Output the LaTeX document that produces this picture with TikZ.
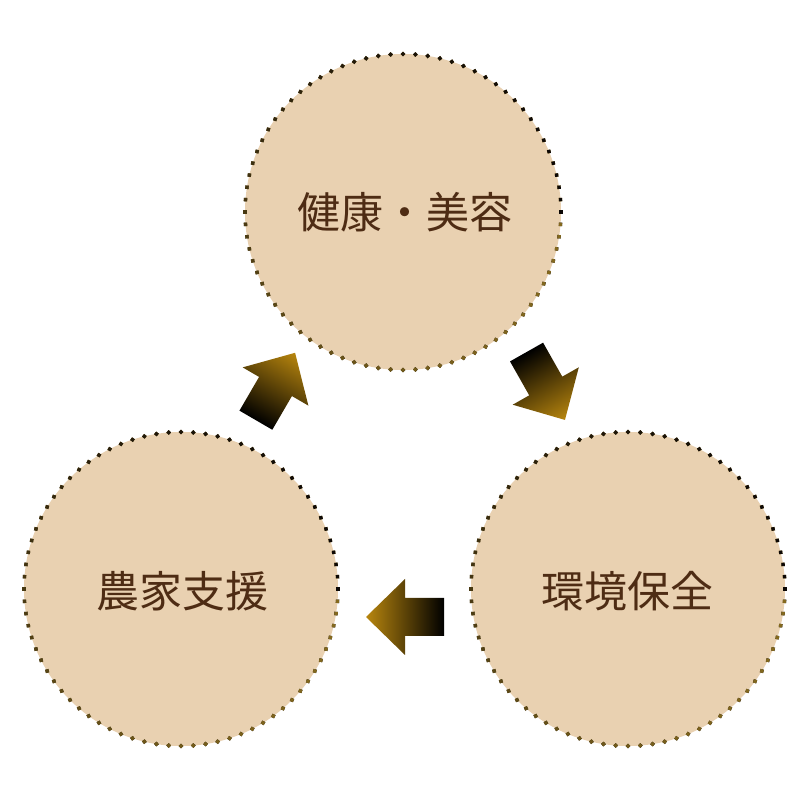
\documentclass[tikz,border=0pt]{standalone}
\usepackage{fontspec}
\newfontfamily\cjk{Noto Sans CJK JP}
\usetikzlibrary{calc}
\definecolor{circfill}{RGB}{233,209,177}
\definecolor{dotdark}{RGB}{25,18,8}
\definecolor{dotgold}{RGB}{160,128,36}
\definecolor{txtbrown}{RGB}{78,44,20}
\definecolor{arrgold}{RGB}{184,134,14}
\tikzset{
  bubble/.style={circle, fill=circfill, inner sep=0pt, text=txtbrown,
    font=\cjk\fontsize{43}{50}\selectfont},
  blockarrow/.style={left color=black, right color=arrgold}
}
\begin{document}
\begin{tikzpicture}[x=1pt,y=1pt]
\useasboundingbox (0,0) rectangle (800,800);
% circles
\node[bubble, minimum size=316pt] (top) at (403,588) {};
\node[bubble, minimum size=314pt] (lft) at (181,211) {};
\node[bubble, minimum size=314pt] (rgt) at (628,211) {};
% dotted borders with dark-to-gold colouring
\foreach \c/\r in {top/158, lft/157, rgt/157}{
  \foreach \a in {0,2.25,...,357.75}{
    \pgfmathtruncatemacro\p{35+45*cos(\a)}
    \fill[dotgold!\p!dotdark, rotate around={\a:($(\c)+(\a:\r)$)}]
      ($(\c)+(\a:\r)+(-1.7,-1.7)$) rectangle ++(3.4,3.4);
  }
}
% labels
\node[bubble, fill=none] (ttop) at (405,588) {健康・美容};
\node[bubble, fill=none] (tlft) at (182,209) {農家支援};
\node[bubble, fill=none] (trgt) at (627,209) {環境保全};
% block arrows
\coordinate (a1) at (275.5,413.5);
\coordinate (a2) at (545.75,414);
\coordinate (a3) at (405,183);
\foreach \pos/\ang in {a1/59.8, a2/-60.5, a3/180}{
  \begin{scope}[transform canvas={shift={(\pos)}, rotate=\ang}]
    \shade[blockarrow] (-39,-19) -- (0,-19) -- (0,-38) -- (39,0) -- (0,38) -- (0,19) -- (-39,19) -- cycle;
  \end{scope}
}
\end{tikzpicture}
\end{document}
